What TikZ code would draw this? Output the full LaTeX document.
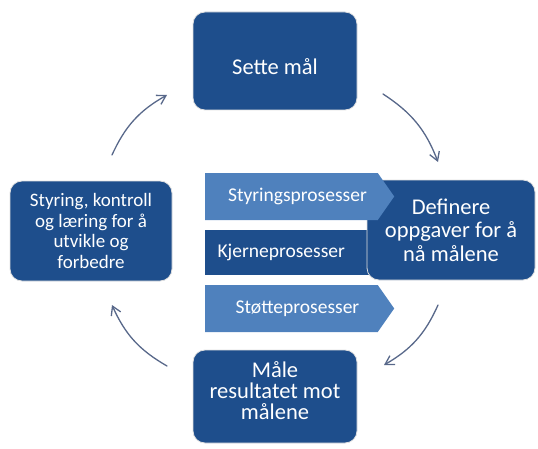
\documentclass[tikz,border=0pt]{standalone}
\usepackage{fontspec}
\setmainfont{Carlito}
\usetikzlibrary{arrows.meta,shapes.symbols}
\definecolor{boxblue}{RGB}{30,78,140}
\definecolor{chevblue}{RGB}{79,129,189}
\definecolor{arrowgray}{RGB}{88,104,138}

\tikzset{
  stepbox/.style={fill=boxblue,draw=black!12,line width=0.8pt,rounded corners=12pt,
    text=white,align=center,font=\fontsize{22.5}{21}\selectfont,inner sep=0pt},
  procarrow/.style={shape=signal,signal to=east,signal pointer angle=110,fill=chevblue,
    text=white,inner sep=0pt,minimum height=47pt,minimum width=189pt,anchor=west,
    font=\fontsize{19.5}{22}\selectfont},
  cyclearrow/.style={->,arrowgray,line width=1.3pt}
}

\begin{document}
\begin{tikzpicture}[x=1pt,y=1pt,>={Straight Barb[length=3mm,width=3.6mm]},line cap=round]
\useasboundingbox (0,0) rectangle (538,448);
\node[stepbox,minimum width=164pt,minimum height=98pt] (sette) at (275,387) {\rule{0pt}{27pt}Sette mål};
\node[stepbox,minimum width=164pt,minimum height=93pt] (maale) at (275,51.5) {Måle\\resultatet mot\\målene\rule[-11pt]{0pt}{0pt}};
\node[stepbox,minimum width=162pt,minimum height=100pt,font=\fontsize{19}{20.5}\selectfont] (styring) at (91,217) {Styring, kontroll\\og læring for å\\utvikle og\\forbedre};
\node[fill=boxblue,text=white,minimum width=170pt,minimum height=45pt,inner sep=0pt,anchor=west,
  font=\fontsize{19.5}{22}\selectfont] (kjerne) at (205,195.5) {\hspace*{-18pt}Kjerneprosesser};
\node[stepbox,minimum width=168pt,minimum height=100pt,font=\fontsize{22.5}{23.5}\selectfont] (definere) at (451,218) {Definere\\oppgaver for å\\nå målene};
\node[procarrow] (styrproc) at (205,251.5) {\hspace*{12pt}Styringsprosesser};
\node[procarrow] (stotte) at (205,139.5) {\hspace*{12pt}Støtteprosesser};
% sirkelpiler
\coordinate (tl1) at (112,293);
\coordinate (tl2) at (167,353);
\coordinate (tr1) at (383,354);
\coordinate (tr2) at (438,286);
\coordinate (br1) at (438,143);
\coordinate (br2) at (384,83);
\coordinate (bl1) at (167,82);
\coordinate (bl2) at (112,143);
\draw[cyclearrow] (tl1) to[bend left=18] (tl2);
\draw[cyclearrow] (tr1) to[bend left=18] (tr2);
\draw[cyclearrow] (br1) to[bend left=18] (br2);
\draw[cyclearrow] (bl1) to[bend left=18] (bl2);
\end{tikzpicture}
\end{document}
